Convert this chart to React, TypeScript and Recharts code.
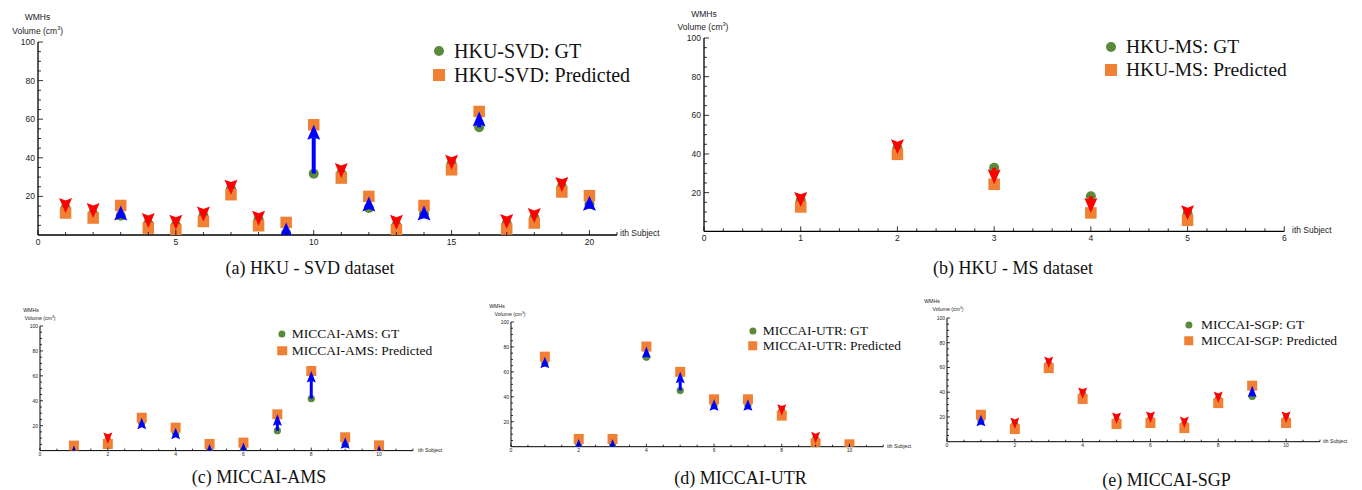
import React from 'react';
import { ScatterChart, Scatter, XAxis, YAxis, ReferenceLine } from 'recharts';

// subjects per dataset
const svdSubjects = [1, 2, 3, 4, 5, 6, 7, 8, 9, 10, 11, 12, 13, 14, 15, 16, 17, 18, 19, 20];
const msSubjects = [1, 2, 3, 4, 5];
const miccaiSubjects = [1, 2, 3, 4, 5, 6, 7, 8, 9, 10];

// WMH volumes (cm^3), ground truth vs predicted
const svdGT = [14, 11, 10, 6, 5, 10, 24, 8, 1, 31.8, 32, 14, 5, 11, 37, 55.8, 6, 9, 25, 16];
const svdPred = [11.4, 8.8, 15.3, 3.6, 2.7, 7, 20.9, 4.8, 6.5, 57.1, 29.5, 20, 2.7, 15.3, 33.8, 64, 3.1, 6.2, 22.3, 20.4];

const msGT = [16, 43, 32.9, 18.1, 9];
const msPred = [12.6, 39.8, 24.3, 9.5, 5.7];

const amsGT = [0.5, 8, 22, 14, 1, 1, 16, 41.7, 5, 0.5];
const amsPred = [4, 5.3, 26.4, 18.4, 5.3, 6.4, 29.1, 63.9, 10.7, 4.2];

const utrGT = [67, 1, 1, 71.7, 45, 33, 33, 29, 6, 0.5];
const utrPred = [72.2, 6.2, 6.2, 80.3, 60, 38, 38, 24.9, 2.7, 1.9];

const sgpGT = [17, 14, 63, 38, 17, 18, 14, 34.5, 36.6, 18];
const sgpPred = [21.8, 10.2, 59.5, 34.5, 14.3, 15.1, 11, 31.2, 45.3, 15.1];

// tick labels
const yMajor = [20, 40, 60, 80, 100];
const svdXMajor = [0, 5, 10, 15, 20];
const msXMajor = [0, 1, 2, 3, 4, 5, 6];
const miccaiXMajor = [0, 2, 4, 6, 8, 10];

const GREEN = '#5a8a3a';
const ORANGE = '#ef8034';
const BLUE = '#0000ff';
const RED = '#ff0000';
const SANS = '"Liberation Sans", Arial, sans-serif';
const SERIF = '"Liberation Serif", "Times New Roman", serif';

function range(start: number, end: number, step: number) {
  const out: number[] = [];
  for (let v = start; v <= end + 1e-9; v += step) out.push(Math.round(v * 100) / 100);
  return out;
}

type Sizes = {
  tickFont: number; circleR: number; square: number; headW: number; headL: number;
  shaftW: number; axisW: number; majorTick: number; minorTick: number; titleFont: number;
  yLabelGap: number; xLabelGap: number;
};

const bigSizes: Sizes = {
  tickFont: 8.5, circleR: 5, square: 11.5, headW: 13, headL: 15, shaftW: 4, axisW: 1.3,
  majorTick: 5, minorTick: 3, titleFont: 8.5, yLabelGap: 3, xLabelGap: 6.5,
};
const smallSizes: Sizes = {
  tickFont: 5, circleR: 3.6, square: 10, headW: 9, headL: 11.5, shaftW: 3, axisW: 1,
  majorTick: 3, minorTick: 2, titleFont: 5.2, yLabelGap: 2, xLabelGap: 3.6,
};

type Panel = {
  id: string;
  subjects: number[];
  gt: number[];
  pred: number[];
  name: string;
  caption: string;
  xMax: number;
  xMajor: number[];
  xMinorStep: number;
  plot: { left: number; top: number; width: number; height: number };
  sizes: Sizes;
  legend: { cx: number; y1: number; y2: number; textX: number; font: number; r: number; sq: number };
  cap: { cx: number; cy: number };
  wmhs: { cx: number; cy: number };
  vol: { cx: number; cy: number };
  ith: { x: number; cy: number };
};

const panels: Panel[] = [
  {
    id: 'a', subjects: svdSubjects, gt: svdGT, pred: svdPred, name: 'HKU-SVD',
    caption: '(a) HKU - SVD dataset', xMax: 21, xMajor: svdXMajor, xMinorStep: 1,
    plot: { left: 37.7, top: 42.3, width: 579, height: 193 }, sizes: bigSizes,
    legend: { cx: 438.5, y1: 50.7, y2: 75, textX: 454, font: 20, r: 5, sq: 12 },
    cap: { cx: 310, cy: 268 }, wmhs: { cx: 37.5, cy: 17 }, vol: { cx: 37.7, cy: 31 },
    ith: { x: 620, cy: 233 },
  },
  {
    id: 'b', subjects: msSubjects, gt: msGT, pred: msPred, name: 'HKU-MS',
    caption: '(b) HKU - MS dataset', xMax: 6, xMajor: msXMajor, xMinorStep: 0.2,
    plot: { left: 704, top: 37.7, width: 580.3, height: 193.3 }, sizes: bigSizes,
    legend: { cx: 1111, y1: 46.7, y2: 70, textX: 1126, font: 19.5, r: 5, sq: 12 },
    cap: { cx: 1013, cy: 268 }, wmhs: { cx: 704, cy: 14 }, vol: { cx: 703, cy: 27 },
    ith: { x: 1292, cy: 230 },
  },
  {
    id: 'c', subjects: miccaiSubjects, gt: amsGT, pred: amsPred, name: 'MICCAI-AMS',
    caption: '(c) MICCAI-AMS', xMax: 11, xMajor: miccaiXMajor, xMinorStep: 0.5,
    plot: { left: 40, top: 326, width: 373, height: 124.6 }, sizes: smallSizes,
    legend: { cx: 282, y1: 334.3, y2: 350.7, textX: 291.7, font: 13.5, r: 3.6, sq: 9.5 },
    cap: { cx: 259, cy: 476.5 }, wmhs: { cx: 31, cy: 311 }, vol: { cx: 40, cy: 319 },
    ith: { x: 418, cy: 451 },
  },
  {
    id: 'd', subjects: miccaiSubjects, gt: utrGT, pred: utrPred, name: 'MICCAI-UTR',
    caption: '(d) MICCAI-UTR', xMax: 11, xMajor: miccaiXMajor, xMinorStep: 0.5,
    plot: { left: 510.7, top: 322, width: 372.3, height: 124.7 }, sizes: smallSizes,
    legend: { cx: 752.5, y1: 330.7, y2: 345.7, textX: 762.7, font: 13.5, r: 3.6, sq: 9.5 },
    cap: { cx: 740.5, cy: 478 }, wmhs: { cx: 497, cy: 307 }, vol: { cx: 510, cy: 315 },
    ith: { x: 887, cy: 446.5 },
  },
  {
    id: 'e', subjects: miccaiSubjects, gt: sgpGT, pred: sgpPred, name: 'MICCAI-SGP',
    caption: '(e) MICCAI-SGP', xMax: 11, xMajor: miccaiXMajor, xMinorStep: 0.5,
    plot: { left: 946.7, top: 318.3, width: 373, height: 123.7 }, sizes: smallSizes,
    legend: { cx: 1188.5, y1: 325, y2: 340.7, textX: 1201, font: 13.5, r: 3.6, sq: 9.5 },
    cap: { cx: 1166.5, cy: 480 }, wmhs: { cx: 932, cy: 302 }, vol: { cx: 948, cy: 310 },
    ith: { x: 1323, cy: 442 },
  },
];

const MARGIN_TOP = 12;
const MARGIN_RIGHT = 4;
const Y_W = 34;
const X_H = 16;

function makeXTick(major: number[], s: Sizes) {
  return (props: any) => {
    const { x, y, payload } = props;
    const isMajor = major.includes(payload.value);
    const len = isMajor ? s.majorTick : s.minorTick;
    return (
      <g>
        <line x1={x} y1={y} x2={x} y2={y - len} stroke="#000" strokeWidth={0.8} />
        {isMajor && (
          <text x={x} y={y + s.xLabelGap} textAnchor="middle" dominantBaseline="central"
            fontSize={s.tickFont} fontFamily={SANS} fill="#222">
            {payload.value}
          </text>
        )}
      </g>
    );
  };
}

function makeYTick(s: Sizes) {
  return (props: any) => {
    const { x, y, payload } = props;
    const isMajor = yMajor.includes(payload.value);
    if (payload.value === 0) return <g />;
    const len = isMajor ? s.majorTick : s.minorTick;
    return (
      <g>
        <line x1={x} y1={y} x2={x + len} y2={y} stroke="#000" strokeWidth={0.8} />
        {isMajor && (
          <text x={x - s.yLabelGap} y={y} textAnchor="end" dominantBaseline="central"
            fontSize={s.tickFont} fontFamily={SANS} fill="#222">
            {payload.value}
          </text>
        )}
      </g>
    );
  };
}

// arrow from GT (x1,y1) to predicted (x2,y2), head tip on the predicted point
function makeArrow(s: Sizes, color: string) {
  return (props: any) => {
    const { x1, y1, x2, y2, clipPath } = props;
    const dir = y2 < y1 ? -1 : 1; // -1: pointing up
    const baseY = y2 - dir * s.headL;
    const notchY = y2 - dir * s.headL * 0.84;
    const shaft = dir === -1 ? y1 > notchY : y1 < notchY;
    return (
      <g clipPath={clipPath}>
        {shaft && (
          <line x1={x1} y1={y1} x2={x2} y2={notchY} stroke={color} strokeWidth={s.shaftW} />
        )}
        <polygon
          points={`${x2},${y2} ${x2 + s.headW / 2},${baseY} ${x2},${notchY} ${x2 - s.headW / 2},${baseY}`}
          fill={color}
        />
      </g>
    );
  };
}

function PanelChart({ p }: { p: Panel }) {
  const s = p.sizes;
  const gtPoints = p.subjects.map((x, i) => ({ x, y: p.gt[i] }));
  const predPoints = p.subjects.map((x, i) => ({ x, y: p.pred[i] }));
  const xTicks = range(0, p.xMax, p.xMinorStep);
  const yTicks = range(0, 100, 5);
  const width = Y_W + p.plot.width + MARGIN_RIGHT;
  const height = MARGIN_TOP + p.plot.height + X_H;
  const up = makeArrow(s, BLUE);
  const down = makeArrow(s, RED);

  return (
    <div style={{ position: 'absolute', left: p.plot.left - Y_W, top: p.plot.top - MARGIN_TOP }}>
      <ScatterChart width={width} height={height}
        margin={{ top: MARGIN_TOP, right: MARGIN_RIGHT, bottom: 0, left: 0 }}>
        <XAxis type="number" dataKey="x" domain={[0, p.xMax]} ticks={xTicks} interval={0}
          allowDataOverflow height={X_H} tickSize={0} tickMargin={0} tickLine={false}
          axisLine={{ stroke: '#000', strokeWidth: s.axisW }} tick={makeXTick(p.xMajor, s)} />
        <YAxis type="number" dataKey="y" domain={[0, 100]} ticks={yTicks} interval={0}
          allowDataOverflow width={Y_W} tickSize={0} tickMargin={0} tickLine={false}
          axisLine={{ stroke: '#000', strokeWidth: s.axisW }} tick={makeYTick(s)} />
        <Scatter name={`${p.name}: GT`} data={gtPoints} isAnimationActive={false}
          shape={(props: any) => <circle cx={props.cx} cy={props.cy} r={s.circleR} fill={GREEN} />} />
        <Scatter name={`${p.name}: Predicted`} data={predPoints} isAnimationActive={false}
          shape={(props: any) => (
            <rect x={props.cx - s.square / 2} y={props.cy - s.square / 2}
              width={s.square} height={s.square} fill={ORANGE} />
          )} />
        {p.subjects.map((x, i) => (
          <ReferenceLine key={x} segment={[{ x, y: p.gt[i] }, { x, y: p.pred[i] }]}
            ifOverflow="hidden" zIndex={900}
            shape={p.pred[i] > p.gt[i] ? up : down} />
        ))}
      </ScatterChart>
    </div>
  );
}

function Decorations({ p }: { p: Panel }) {
  const s = p.sizes;
  const center: React.CSSProperties = { position: 'absolute', transform: 'translate(-50%, -50%)', whiteSpace: 'nowrap', lineHeight: 1 };
  const lg = p.legend;
  return (
    <>
      <div style={{ ...center, left: p.wmhs.cx, top: p.wmhs.cy, fontFamily: SANS, fontSize: s.titleFont, color: '#222' }}>WMHs</div>
      <div style={{ ...center, left: p.vol.cx, top: p.vol.cy, fontFamily: SANS, fontSize: s.titleFont, color: '#222' }}>
        Volume (cm<sup style={{ fontSize: '0.65em', verticalAlign: 'super', lineHeight: 0 }}>3</sup>)
      </div>
      <div style={{ position: 'absolute', left: p.ith.x, top: p.ith.cy, transform: 'translateY(-50%)', fontFamily: SANS, fontSize: s.titleFont, color: '#222', whiteSpace: 'nowrap', lineHeight: 1 }}>
        ith Subject
      </div>
      <div style={{ ...center, left: lg.cx, top: lg.y1, width: lg.r * 2, height: lg.r * 2, borderRadius: '50%', background: GREEN }} />
      <div style={{ ...center, left: lg.cx, top: lg.y2, width: lg.sq, height: lg.sq, background: ORANGE }} />
      <div style={{ position: 'absolute', left: lg.textX, top: lg.y1, transform: 'translateY(-50%)', fontFamily: SERIF, fontSize: lg.font, color: '#111', whiteSpace: 'nowrap', lineHeight: 1 }}>
        {p.name}: GT
      </div>
      <div style={{ position: 'absolute', left: lg.textX, top: lg.y2, transform: 'translateY(-50%)', fontFamily: SERIF, fontSize: lg.font, color: '#111', whiteSpace: 'nowrap', lineHeight: 1 }}>
        {p.name}: Predicted
      </div>
      <div style={{ ...center, left: p.cap.cx, top: p.cap.cy, fontFamily: SERIF, fontSize: 18, color: '#111' }}>{p.caption}</div>
    </>
  );
}

export default function App() {
  return (
    <div style={{ position: 'absolute', left: 0, top: 0, width: 1362, height: 490, background: '#fff', overflow: 'hidden' }}>
      {panels.map((p) => (
        <React.Fragment key={p.id}>
          <PanelChart p={p} />
          <Decorations p={p} />
        </React.Fragment>
      ))}
    </div>
  );
}
